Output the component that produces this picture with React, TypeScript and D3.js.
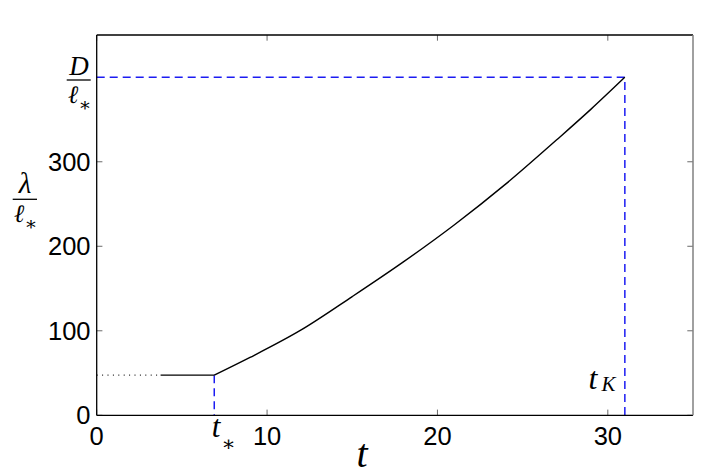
import React from "react";
import * as d3 from "d3";

const curveT = [6.9, 9, 12, 15, 18, 21, 24, 27, 29, 31];
const curveLambda = [47.5, 68.5, 101, 140.5, 181.5, 225.5, 273.5, 326, 362, 400];
const plateauT = [3.75, 6.9];
const plateauLambda = [47.5, 47.5];
const dottedT = [0, 3.75];
const dottedLambda = [47.5, 47.5];
const xTicks = [0, 10, 20, 30];
const yTicks = [0, 100, 200, 300];
const tStar = 6.9;
const tK = 31;
const lambdaStar = 47.5;
const DOverL = 400;

const W = 706;
const H = 476;
const L = 96.7;
const R = 693;
const T = 35;
const B = 415.3;

export default function App() {
  const x = d3.scaleLinear().domain([0, 35]).range([L, R]);
  const y = d3.scaleLinear().domain([0, 450]).range([B, T]);
  const line = d3
    .line<[number, number]>()
    .x((d) => x(d[0]))
    .y((d) => y(d[1]));
  const smooth = d3
    .line<[number, number]>()
    .x((d) => x(d[0]))
    .y((d) => y(d[1]))
    .curve(d3.curveMonotoneX);
  const curvePts = curveT.map((t, i) => [t, curveLambda[i]] as [number, number]);
  const platPts = plateauT.map((t, i) => [t, plateauLambda[i]] as [number, number]);
  const dotPts = dottedT.map((t, i) => [t, dottedLambda[i]] as [number, number]);
  const blue = "#1c1cf2";
  const serif = "'Liberation Serif', 'DejaVu Serif', serif";
  const sans = "'Liberation Sans', Arial, sans-serif";
  const tickLen = 5.7;
  const tickColor = "#6a6a6a";

  return (
    <div style={{ position: "absolute", left: 0, top: 0 }}>
      <svg width={W} height={H} style={{ display: "block", background: "#fff" }}>
        <rect x={0} y={0} width={W} height={H} fill="#fff" />
        {/* ticks */}
        {xTicks.map((t) => (
          <g key={"xt" + t}>
            <line x1={x(t)} x2={x(t)} y1={B} y2={B - tickLen} stroke={tickColor} strokeWidth={1} />
            <line x1={x(t)} x2={x(t)} y1={T} y2={T + tickLen} stroke={tickColor} strokeWidth={1} />
            <text x={x(t)} y={445} textAnchor="middle" fontFamily={sans} fontSize={25.5} fill="#000">
              {t}
            </text>
          </g>
        ))}
        {yTicks.map((v) => (
          <g key={"yt" + v}>
            <line x1={L} x2={L + tickLen} y1={y(v)} y2={y(v)} stroke={tickColor} strokeWidth={1} />
            <line x1={R} x2={R - tickLen} y1={y(v)} y2={y(v)} stroke={tickColor} strokeWidth={1} />
            <text x={90.5} y={y(v) + 9} textAnchor="end" fontFamily={sans} fontSize={25.5} fill="#000">
              {v}
            </text>
          </g>
        ))}
        {/* blue dashed guides */}
        <path
          d={line([[0, DOverL], [tK, DOverL], [tK, 0]])!}
          fill="none"
          stroke={blue}
          strokeWidth={1.5}
          strokeDasharray="8,5"
        />
        <path
          d={line([[tStar, lambdaStar], [tStar, 0]])!}
          fill="none"
          stroke={blue}
          strokeWidth={1.5}
          strokeDasharray="8,5"
        />
        {/* data */}
        <path d={line(dotPts)!} fill="none" stroke="#222" strokeWidth={1.2} strokeDasharray="1,4.4" />
        <path d={line(platPts)!} fill="none" stroke="#000" strokeWidth={1.4} />
        <path d={smooth(curvePts)!} fill="none" stroke="#000" strokeWidth={1.4} />
        {/* frame */}
        <line x1={L} x2={R} y1={T} y2={T} stroke="#000" strokeWidth={1.3} />
        <line x1={L} x2={R} y1={B} y2={B} stroke="#000" strokeWidth={1.3} />
        <line x1={L} x2={L} y1={T} y2={B} stroke="#000" strokeWidth={1.3} />
        <line x1={R} x2={R} y1={T} y2={B} stroke="#808080" strokeWidth={1.5} />

        {/* D / l* label */}
        <text x={79} y={75} textAnchor="middle" fontFamily={serif} fontStyle="italic" fontSize={27}>
          D
        </text>
        <line x1={66.7} x2={90.7} y1={80} y2={80} stroke="#000" strokeWidth={1.3} />
        <text x={73} y={103} textAnchor="middle" fontFamily={serif} fontStyle="italic" fontSize={25}>
          ℓ
        </text>
        <text x={85} y={111} textAnchor="middle" fontFamily={serif} fontSize={19}>
          ∗
        </text>

        {/* lambda / l* label */}
        <text x={25} y={193} textAnchor="middle" fontFamily={serif} fontStyle="italic" fontSize={29}>
          λ
        </text>
        <line x1={12.7} x2={37} y1={199.3} y2={199.3} stroke="#000" strokeWidth={1.3} />
        <text x={19} y={222} textAnchor="middle" fontFamily={serif} fontStyle="italic" fontSize={25}>
          ℓ
        </text>
        <text x={31} y={230} textAnchor="middle" fontFamily={serif} fontSize={19}>
          ∗
        </text>

        {/* t* label */}
        <text x={216} y={437} textAnchor="middle" fontFamily={serif} fontStyle="italic" fontSize={31}>
          t
        </text>
        <text x={228.5} y={451} textAnchor="middle" fontFamily={serif} fontSize={21}>
          ∗
        </text>

        {/* tK label */}
        <text x={593} y={389} textAnchor="middle" fontFamily={serif} fontStyle="italic" fontSize={32}>
          t
        </text>
        <text x={608.5} y={391} textAnchor="middle" fontFamily={serif} fontStyle="italic" fontSize={21}>
          K
        </text>

        {/* x axis label */}
        <text x={362} y={467} textAnchor="middle" fontFamily={serif} fontStyle="italic" fontSize={40}>
          t
        </text>
      </svg>
    </div>
  );
}
